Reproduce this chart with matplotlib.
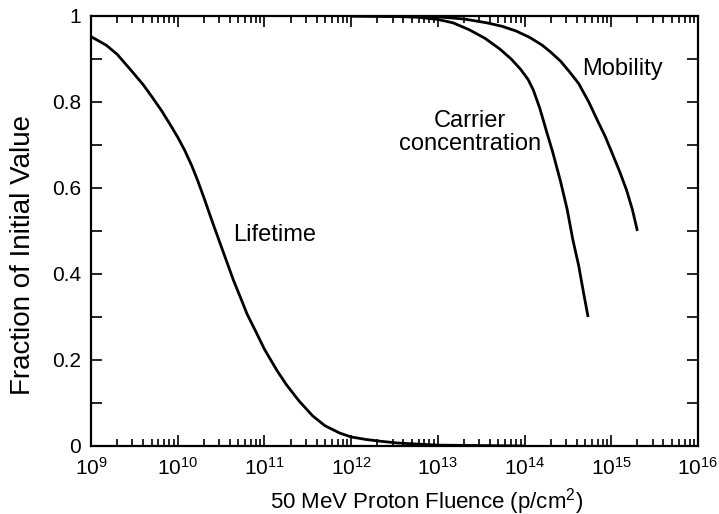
import numpy as np
import matplotlib.pyplot as plt
from matplotlib.ticker import LogLocator, MultipleLocator, FuncFormatter, NullFormatter

plt.rcParams['font.family'] = ['Liberation Sans', 'DejaVu Sans']

# fluence (p/cm^2) and fraction of initial value for each parameter
lifetime_x = [1e9, 1.5e9, 2e9, 3e9, 4e9, 5e9, 6.5e9, 8.5e9, 1e10, 1.2e10,
              1.45e10, 1.7e10, 2e10, 2.5e10, 3.2e10, 4.4e10, 5.3e10, 6.3e10,
              8e10, 1e11, 1.4e11, 1.8e11, 2.5e11, 3.6e11, 5e11, 7.4e11, 1e12,
              1.5e12, 2.2e12, 3.4e12, 1e13, 1e14]
lifetime_y = [0.952, 0.932, 0.911, 0.870, 0.840, 0.813, 0.780, 0.742, 0.718,
              0.688, 0.652, 0.617, 0.578, 0.522, 0.462, 0.385, 0.345, 0.307,
              0.265, 0.225, 0.175, 0.142, 0.105, 0.070, 0.047, 0.030, 0.021,
              0.015, 0.011, 0.007, 0.002, 0.0]

carrier_x = [1e12, 3e12, 6e12, 1e13, 1.5e13, 2.3e13, 3.5e13, 5.2e13, 7e13,
             9e13, 1.1e14, 1.26e14, 1.5e14, 1.8e14, 2.1e14, 2.6e14, 3.1e14,
             3.6e14, 4.2e14, 4.8e14, 5.4e14]
carrier_y = [1.0, 0.999, 0.997, 0.992, 0.984, 0.968, 0.948, 0.923, 0.90,
             0.876, 0.852, 0.828, 0.785, 0.73, 0.685, 0.615, 0.55,
             0.48, 0.42, 0.355, 0.30]

mobility_x = [1e12, 1e13, 2e13, 3.7e13, 5.5e13, 8e13, 1.15e14, 1.6e14, 2e14,
              2.6e14, 3.3e14, 4.2e14, 5.5e14, 7e14, 8.5e14, 9.8e14, 1.25e15,
              1.5e15, 1.75e15, 2e15]
mobility_y = [1.0, 0.998, 0.993, 0.984, 0.976, 0.965, 0.950, 0.932, 0.916,
              0.895, 0.87, 0.843, 0.80, 0.755, 0.72, 0.69, 0.638,
              0.595, 0.55, 0.50]

fig = plt.figure(figsize=(7.19, 5.14), dpi=100)
ax = fig.add_axes([0.1266, 0.1323, 0.8442, 0.8366])

for xs, ys in [(lifetime_x, lifetime_y), (carrier_x, carrier_y),
               (mobility_x, mobility_y)]:
    ax.plot(xs, ys, color='black', lw=2.0, solid_capstyle='butt',
            solid_joinstyle='round')

ax.set_xscale('log')
ax.set_xlim(1e9, 1e16)
ax.set_ylim(0, 1)

ax.xaxis.set_major_locator(LogLocator(base=10, numticks=20))
ax.xaxis.set_minor_locator(LogLocator(base=10, subs=np.arange(2, 10), numticks=20))
ax.xaxis.set_major_formatter(FuncFormatter(
    lambda v, p: r'$\mathregular{10^{%d}}$' % round(np.log10(v))))
ax.xaxis.set_minor_formatter(NullFormatter())
ax.yaxis.set_major_locator(MultipleLocator(0.2))
ax.yaxis.set_minor_locator(MultipleLocator(0.1))
ax.yaxis.set_major_formatter(FuncFormatter(lambda v, p: '%g' % round(v, 1)))

ax.tick_params(which='both', direction='in', top=True, right=True,
               labelsize=15, width=1.2, colors='black')
ax.tick_params(which='major', length=8)
ax.tick_params(axis='x', which='major', pad=8)
ax.tick_params(axis='y', which='major', pad=7)
ax.tick_params(which='minor', length=5)
ax.tick_params(axis='y', which='minor', length=8)
for s in ax.spines.values():
    s.set_linewidth(1.6)

ax.set_xlabel(r'50 MeV Proton Fluence (p/cm$\mathregular{^2}$)', fontsize=16)
ax.xaxis.set_label_coords(0.552, -0.093)
ax.set_ylabel('Fraction of Initial Value', fontsize=20)
ax.yaxis.set_label_coords(-0.091, 0.444)

ax.text(4.35e10, 0.49, 'Lifetime', fontsize=17, ha='left', va='center')
ax.text(2.35e13, 0.729, 'Carrier\nconcentration', fontsize=17, ha='center',
        va='center', linespacing=1.1)
ax.text(1.33e15, 0.877, 'Mobility', fontsize=17, ha='center', va='center')

fig.savefig('out.png', dpi=100)
